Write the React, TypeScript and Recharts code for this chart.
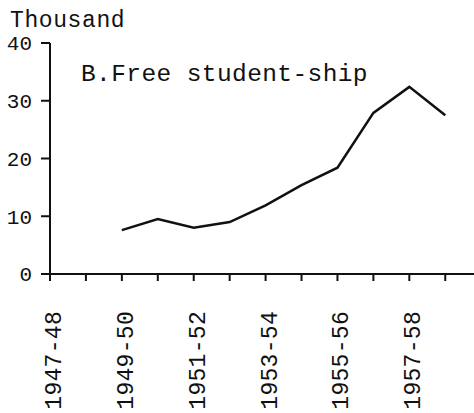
import React from 'react';
import { LineChart, Line, XAxis, YAxis } from 'recharts';

const categories = ['1947-48', '1948-49', '1949-50', '1950-51', '1951-52', '1952-53', '1953-54', '1954-55', '1955-56', '1956-57', '1957-58', '1958-59'];
const students = [null, null, 7.6, 9.5, 8.0, 9.0, 11.9, 15.4, 18.4, 27.9, 32.4, 27.5];
const yTicks = [0, 10, 20, 30, 40];

const data = categories.map((c, i) => ({ idx: i, cat: c, value: students[i] }));
const xTicks = categories.map((_, i) => i);

const FONT = '"Liberation Mono", "Courier New", monospace';

const XTick = (props: any) => {
  const { x, y, payload } = props;
  const i = payload.value as number;
  if (i % 2 !== 0) return null;
  return (
    <g transform={`translate(${x},${y})`}>
      <text
        transform="rotate(-90)"
        x={-28}
        y={5}
        textAnchor="end"
        dominantBaseline="central"
        fontFamily={FONT}
        fontSize={23}
        letterSpacing={0.3}
        fill="#111"
      >
        {categories[i]}
      </text>
    </g>
  );
};

export default function App() {
  return (
    <div style={{ position: 'absolute', left: 0, top: 0, width: 474, height: 413, background: '#fff' }}>
      <div style={{ position: 'absolute', left: 10, top: 14, fontFamily: FONT, fontSize: 23, letterSpacing: 0.6, color: '#111', lineHeight: '14px' }}>
        Thousand
      </div>
      <div style={{ position: 'absolute', left: 81, top: 61, fontFamily: FONT, fontSize: 24.5, letterSpacing: 0.4, color: '#111', lineHeight: '28px' }}>
        B.Free student-ship
      </div>
      <LineChart width={474} height={413} data={data} margin={{ top: 43, right: 0, left: 0, bottom: 0 }}>
        <XAxis
          dataKey="idx"
          type="number"
          domain={[0, 11.8]}
          ticks={xTicks}
          allowDataOverflow
          height={139}
          tickSize={7}
          tick={<XTick />}
          axisLine={{ stroke: '#111', strokeWidth: 2 }}
          tickLine={{ stroke: '#111', strokeWidth: 2 }}
          interval={0}
        />
        <YAxis
          domain={[0, 40]}
          ticks={yTicks}
          width={50}
          tickSize={9}
          tickMargin={9}
          axisLine={{ stroke: '#111', strokeWidth: 2 }}
          tickLine={{ stroke: '#111', strokeWidth: 2 }}
          tick={{ fontFamily: FONT, fontSize: 21, fill: '#111' }}
        />
        <Line
          dataKey="value"
          stroke="#111"
          strokeWidth={2.5}
          dot={false}
          isAnimationActive={false}
          type="linear"
        />
      </LineChart>
    </div>
  );
}
